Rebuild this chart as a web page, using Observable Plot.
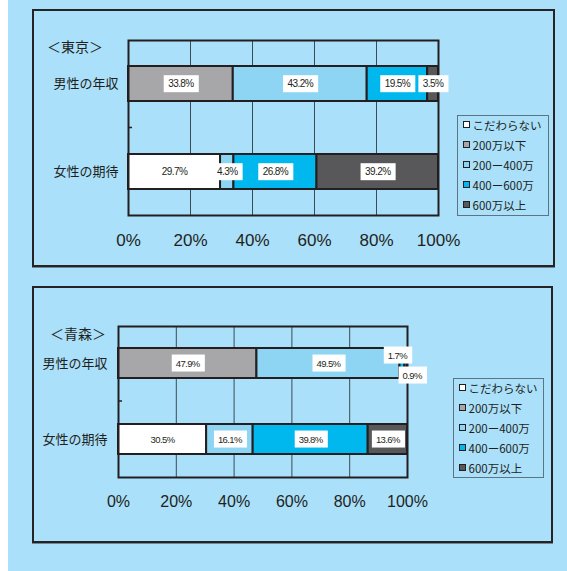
<!DOCTYPE html>
<html><head><meta charset="utf-8">
<script src="https://cdn.jsdelivr.net/npm/d3@7"></script>
<script src="https://cdn.jsdelivr.net/npm/@observablehq/plot@0.6"></script>
<style>
html,body{margin:0;padding:0;background:#fff;}
#page{position:relative;width:567px;height:571px;overflow:hidden;background:#fff;}
#bg{position:absolute;left:8px;top:0;width:559px;height:571px;background:#aae0fa;}
.panel{position:absolute;box-sizing:border-box;border:2px solid #262324;box-shadow:0 1px 0 #6f8794;}
.title{position:absolute;font-family:"Noto Sans CJK JP",sans-serif;font-size:14px;line-height:14px;color:#231f20;white-space:nowrap;}
.legend{position:absolute;box-sizing:border-box;border:1.5px solid #5d7482;font-family:"Noto Sans CJK JP",sans-serif;font-size:11.5px;color:#231f20;}
.legend .item{position:absolute;left:4.5px;height:14px;line-height:14px;white-space:nowrap;}
.legend .sw{position:absolute;left:0;top:3.5px;box-sizing:border-box;width:7px;height:7px;border:1.5px solid #231f20;}
.legend .lt{position:absolute;left:10px;top:0;}
</style></head>
<body><div id="page"><div id="bg"></div></div>
<script>
// ---- data ----
const seriesNames = ["こだわらない", "200万以下", "200ー400万", "400ー600万", "600万以上"];
const seriesColors = ["#ffffff", "#a7a6a9", "#8ed5f4", "#00b8ee", "#58585a"];
const categories = ["男性の年収", "女性の期待"];
const tokyoMale = [0, 33.8, 43.2, 19.5, 3.5];
const tokyoFemale = [29.7, 0, 4.3, 26.8, 39.2];
const aomoriMale = [0, 47.9, 49.5, 1.7, 0.9];
const aomoriFemale = [30.5, 0, 16.1, 39.8, 13.6];
const xTicks = [0, 20, 40, 60, 80, 100];
const gridTicks = [20, 40, 60, 80];
const titles = ["＜東京＞", "＜青森＞"];

const ns = "http://www.w3.org/2000/svg";
const page = document.getElementById("page");
const LABEL_FILL = "#231f21";

function buildRows(male, female) {
  const rows = [];
  [male, female].forEach((vals, c) => {
    let smallRank = 0;
    vals.forEach((v, i) => {
      if (v <= 0) return;
      const small = v < 3;
      rows.push({cat: categories[c], series: seriesNames[i], value: v, small, rank: small ? smallRank++ : -1});
    });
  });
  return rows;
}
const fmt = v => v.toFixed(1) + "%";

function addDiv(cls, style, html) {
  const d = document.createElement("div");
  d.className = cls;
  Object.assign(d.style, style);
  if (html != null) d.textContent = html;
  page.appendChild(d);
  return d;
}

function makeChart(cfg) {
  addDiv("panel", {left: cfg.panel[0] + "px", top: cfg.panel[1] + "px", width: cfg.panel[2] + "px", height: cfg.panel[3] + "px"});
  addDiv("title", {left: cfg.titlePos[0] + "px", top: cfg.titlePos[1] + "px"}, cfg.title);

  const rows = buildRows(cfg.male, cfg.female);
  const labelFont = "'Liberation Sans Narrow','Liberation Sans',sans-serif";
  const labelOpts = {fontFamily: labelFont, fontSize: cfg.labelFont, fill: LABEL_FILL};
  const svg = Plot.plot({
    width: 567,
    height: cfg.height,
    marginLeft: cfg.m[0], marginRight: cfg.m[1], marginTop: cfg.m[2], marginBottom: cfg.m[3],
    style: {background: "transparent", fontFamily: labelFont, fontSize: cfg.tickFont + "px", color: "#231f20", overflow: "visible"},
    x: {domain: [0, 100], ticks: xTicks, tickFormat: d => d + "%", tickSize: 0, tickPadding: cfg.tickPad, label: null},
    y: {domain: categories, paddingInner: 0.6, paddingOuter: 0.29, axis: null},
    color: {domain: seriesNames, range: seriesColors},
    marks: [
      Plot.ruleX(gridTicks, {x: d => d, stroke: "#3b4c57", strokeWidth: 1}),
      Plot.barX(rows, Plot.stackX({x: "value", y: "cat", fill: "series", stroke: "#231f20", strokeWidth: 2})),
      Plot.frame({stroke: "#231f20", strokeWidth: 2}),
      (index, scales, values, dims) => {
        const y = scales.y;
        if (!y) return null;
        const bw = y.bandwidth ? y.bandwidth() : 0;
        const ym = (y(categories[0]) + y(categories[1])) / 2 + bw / 2;
        const l = document.createElementNS(ns, "line");
        l.setAttribute("x1", dims.marginLeft);
        l.setAttribute("x2", dims.marginLeft + 4);
        l.setAttribute("y1", ym);
        l.setAttribute("y2", ym);
        l.setAttribute("stroke", "#231f20");
        l.setAttribute("stroke-width", 1.5);
        return l;
      },
      Plot.text(categories, {y: d => d, text: d => d, frameAnchor: "left", textAnchor: "end", dx: cfg.catDx,
        fontFamily: "'Noto Sans CJK JP',sans-serif", fontSize: 13, fill: "#231f20"}),
      Plot.text(rows, Plot.stackX({x: "value", y: "cat", text: d => d.small ? null : fmt(d.value), ...labelOpts})),
      Plot.text(rows, Plot.stackX({x: "value", y: "cat", text: d => d.rank === 0 ? fmt(d.value) : null, dx: -5, dy: -8, ...labelOpts})),
      Plot.text(rows, Plot.stackX({x: "value", y: "cat", text: d => d.rank === 1 ? fmt(d.value) : null, dx: 6, dy: 12, ...labelOpts}))
    ]
  });
  svg.style.position = "absolute";
  svg.style.left = "0px";
  svg.style.top = cfg.top + "px";
  svg.style.maxWidth = "none";
  page.appendChild(svg);

  // white boxes behind segment labels
  const texts = Array.from(svg.querySelectorAll("text")).filter(t => /\d\.\d%$/.test(t.textContent));
  texts.forEach(t => {
    t.style.letterSpacing = cfg.ls + "px";
    t.setAttribute("fill", "#231f20");
  });
  texts.forEach(t => {
    const b = t.getBBox();
    if (!b.width) return;
    const r = document.createElementNS(ns, "rect");
    const w = b.width + cfg.boxPad, h = 17;
    r.setAttribute("x", b.x + b.width / 2 - w / 2);
    r.setAttribute("y", b.y + b.height / 2 - h / 2);
    r.setAttribute("width", w);
    r.setAttribute("height", h);
    r.setAttribute("fill", "#ffffff");
    r.setAttribute("stroke", "none");
    const tr = t.getAttribute("transform");
    if (tr) r.setAttribute("transform", tr);
    t.parentNode.insertBefore(r, t);
  });

  const lg = addDiv("legend", {left: cfg.legend[0] + "px", top: cfg.legend[1] + "px", width: cfg.legend[2] + "px", height: cfg.legend[3] + "px"});
  seriesNames.forEach((name, i) => {
    const it = document.createElement("div");
    it.className = "item";
    it.style.top = (10 + 20 * i - 7 - 1.5) + "px";
    const sw = document.createElement("span");
    sw.className = "sw";
    sw.style.background = seriesColors[i];
    const tx = document.createElement("span");
    tx.className = "lt";
    tx.textContent = name;
    it.appendChild(sw); it.appendChild(tx);
    lg.appendChild(it);
  });
}

makeChart({
  panel: [32, 9, 523, 258], title: titles[0], titlePos: [47, 39],
  male: tokyoMale, female: tokyoFemale,
  top: 0, height: 266, m: [128, 129, 40, 51],
  tickFont: 17, tickPad: 18, labelFont: 10, boxPad: 9, catDx: -10, ls: -0.6,
  legend: [457, 115, 92, 101]
});
makeChart({
  panel: [32, 286, 521, 257], title: titles[1], titlePos: [50, 326],
  male: aomoriMale, female: aomoriFemale,
  top: 276, height: 295, m: [118, 160, 50, 94],
  tickFont: 16, tickPad: 18, labelFont: 9.5, boxPad: 8, catDx: -11, ls: -0.6,
  legend: [453, 378, 91, 100]
});
</script>
</body></html>
